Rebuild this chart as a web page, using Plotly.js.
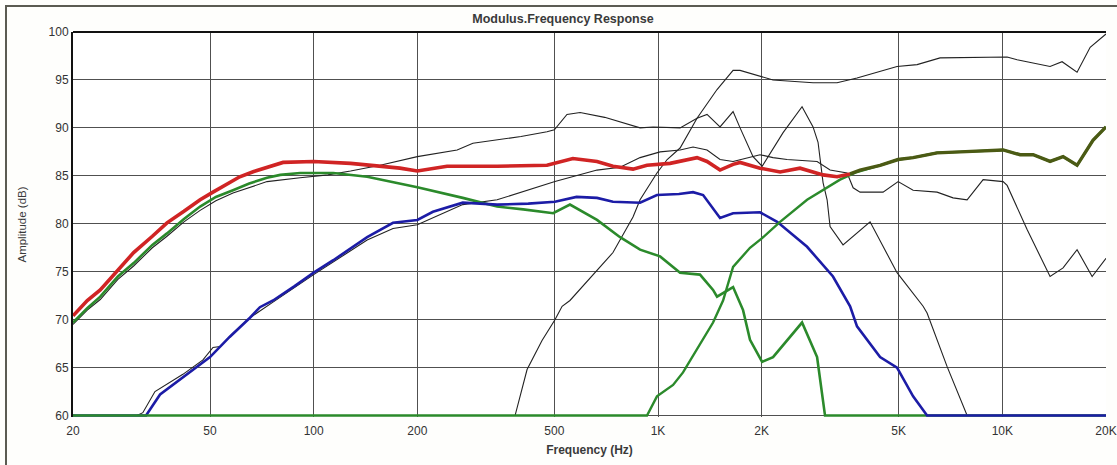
<!DOCTYPE html>
<html>
<head>
<meta charset="utf-8">
<script src="https://cdn.plot.ly/plotly-3.0.1.min.js"></script>
<style>
  html, body { margin: 0; padding: 0; background: #fefefc; }
  #wrap { position: relative; width: 1117px; height: 465px; overflow: hidden; }
  #frame { position: absolute; left: 5px; top: 5px; width: 1120px; height: 470px;
           border-top: 2px solid #5b5b52; border-left: 2px solid #5b5b52; box-sizing: border-box; }
  #chart { position: absolute; left: 0; top: 0; width: 1117px; height: 465px; }
</style>
</head>
<body>
<div id="wrap">
  <div id="frame"></div>
  <div id="chart"></div>
</div>
<script>
// Tick labels
const tickHz = [20, 50, 100, 200, 500, 1000, 2000, 5000, 10000, 20000];
const tickText = ['20', '50', '100', '200', '500', '1K', '2K', '5K', '10K', '20K'];
const tickDb = [60, 65, 70, 75, 80, 85, 90, 95, 100];

// Raw woofer response (thin black)
const wooferRawHz = [20, 22, 24, 27, 30, 34, 37.5, 42, 46.8, 52, 58.3, 65, 73.2, 91.3, 110, 128, 156, 200, 261, 290, 400, 476, 500, 544, 594, 700, 776, 887, 968, 1159, 1298, 1388, 1514, 1652, 1731, 1888, 2006, 2308, 2620, 2820, 2916, 3015, 3098, 3160, 3446, 4129, 4945, 5887, 6045, 6912, 7901, 20000];
const wooferRawDb = [69.5, 71, 72.1, 74.2, 75.6, 77.5, 78.7, 80.2, 81.4, 82.4, 83.2, 83.8, 84.4, 84.8, 85.1, 85.5, 86.1, 87, 87.7, 88.4, 89.1, 89.6, 89.8, 91.4, 91.6, 91.1, 90.6, 90, 90.1, 90, 91, 91.4, 90.1, 91.7, 90, 87, 86, 89.5, 92.2, 90.1, 88.5, 84.3, 82.5, 79.7, 77.8, 80.2, 74.9, 71.4, 70.7, 65.1, 60, 60];

// Raw midrange response (thin black)
const midRawHz = [20, 30.7, 31.9, 34.6, 41.7, 47.7, 51, 53.5, 58.3, 65.3, 76, 100, 143, 170, 200, 271, 341, 502, 665, 740, 776, 887, 1014, 1159, 1264, 1388, 1514, 1652, 1813, 1978, 2158, 2370, 2897, 3160, 3541, 3687, 3862, 4504, 4981, 5506, 6464, 7193, 7901, 8795, 10050, 10325, 11800, 13760, 15010, 16482, 18230, 20000];
const midRawDb = [60, 60, 60.3, 62.5, 64.3, 65.8, 67.1, 67.2, 68.6, 70.2, 71.8, 74.7, 78.3, 79.5, 79.9, 82, 82.5, 84.4, 85.6, 85.8, 85.9, 86.9, 87.5, 87.7, 88, 87.7, 86.7, 86.5, 86.9, 87.2, 86.9, 86.7, 86.5, 85.6, 85.3, 83.75, 83.3, 83.3, 84.4, 83.5, 83.3, 82.7, 82.5, 84.6, 84.4, 84, 79.4, 74.5, 75.4, 77.3, 74.5, 76.4];

// Raw tweeter response (thin black)
const tweeterRawHz = [20, 384.5, 416.6, 460, 502, 526.6, 555, 640, 740, 846, 887, 993, 1063, 1159, 1298, 1484, 1652, 1731, 1813, 2158, 2820, 3311, 3784, 4945, 5655, 6594, 10325, 11037, 13760, 14910, 16482, 17990, 20000];
const tweeterRawDb = [60, 60, 64.8, 67.8, 70, 71.4, 72, 74.5, 77, 80.7, 82.5, 85.3, 86.7, 87.9, 91, 94, 96, 96, 95.8, 95, 94.7, 94.7, 95.2, 96.4, 96.6, 97.3, 97.4, 97.1, 96.4, 96.9, 95.8, 98.4, 99.8];

// Filtered woofer (green)
const wooferHz = [20, 22, 24, 27, 30, 34, 37.5, 42, 46.8, 52, 58.3, 65, 73.2, 80, 91.3, 114, 143, 178, 200, 271, 341, 406, 496, 555, 665, 776, 887, 1014, 1159, 1324, 1445, 1484, 1652, 1766, 1850, 2006, 2158, 2620, 2897, 3055, 20000];
const wooferDb = [69.7, 71.2, 72.4, 74.5, 75.9, 77.8, 79, 80.5, 81.8, 82.8, 83.5, 84.2, 84.8, 85.1, 85.3, 85.3, 84.9, 84.2, 83.8, 82.7, 81.8, 81.5, 81.1, 82, 80.4, 78.6, 77.3, 76.6, 74.9, 74.7, 73.1, 72.4, 73.4, 71, 67.9, 65.6, 66.1, 69.7, 66.1, 60, 60];

// Filtered midrange (blue)
const midHz = [20, 32.6, 35.8, 40, 45.8, 50, 57, 65.3, 69.8, 76.2, 88, 100, 114, 143, 170, 200, 222, 271, 341, 420, 502, 580, 665, 740, 887, 993, 1150, 1264, 1352, 1514, 1652, 1978, 2218, 2710, 3222, 3613, 3784, 4415, 4945, 5506, 6045, 20000];
const midDb = [60, 60, 62.2, 63.5, 65.1, 66.1, 68.2, 70.2, 71.3, 72, 73.5, 74.9, 76.2, 78.6, 80.1, 80.4, 81.25, 82.2, 82, 82.1, 82.3, 82.8, 82.7, 82.3, 82.2, 83, 83.1, 83.3, 83, 80.6, 81.1, 81.2, 80.2, 77.6, 74.5, 71.4, 69.3, 66.1, 65, 62, 60, 60];

// Filtered tweeter (green)
const tweeterHz = [20, 929, 993, 1106, 1182, 1445, 1545, 1652, 1850, 2006, 2262, 2710, 3378, 3784, 4415, 4981, 5506, 6464, 7538, 10050, 11260, 12286, 13760, 15010, 16482, 18330, 20000];
const tweeterDb = [60, 60, 62, 63.2, 64.5, 69.7, 72, 75.5, 77.5, 78.5, 80.2, 82.5, 84.6, 85.4, 86.1, 86.7, 86.9, 87.4, 87.5, 87.7, 87.2, 87.2, 86.5, 87, 86.1, 88.7, 90.1];

// System sum (red, olive where it overlays the tweeter)
const sumHz = [20, 22, 24, 27, 30, 34, 37.5, 42, 46.8, 51, 56, 61, 67, 73, 81.5, 100, 128, 178, 200, 244, 341, 476, 566, 665, 740, 846, 929, 1084, 1264, 1298, 1388, 1514, 1652, 1731, 1978, 2262, 2585, 3015, 3311, 3613, 3862, 4415, 4981, 5506, 6464, 7538, 10050, 11260, 12286, 13760, 15010, 16482, 18330, 20000];
const sumDb = [70.4, 72, 73.1, 75.2, 77, 78.7, 80.1, 81.3, 82.5, 83.3, 84.1, 84.9, 85.45, 85.9, 86.4, 86.5, 86.3, 85.8, 85.5, 86, 86, 86.1, 86.8, 86.5, 86, 85.7, 86.1, 86.3, 86.8, 86.9, 86.5, 85.6, 86.2, 86.4, 85.8, 85.4, 85.8, 85.1, 84.9, 85.2, 85.6, 86.1, 86.7, 86.9, 87.4, 87.5, 87.7, 87.2, 87.2, 86.5, 87, 86.1, 88.7, 90.1];
const overlapFromHz = 3613;

const lowIdx = sumHz.map((f, i) => i).filter(i => sumHz[i] <= overlapFromHz);
const highIdx = sumHz.map((f, i) => i).filter(i => sumHz[i] >= overlapFromHz);

function line(x, y, color, width) {
  return { x: x, y: y, type: 'scatter', mode: 'lines', line: { color: color, width: width }, hoverinfo: 'skip', showlegend: false };
}

const traces = [
  line(tweeterRawHz, tweeterRawDb, '#222222', 1.1),
  line(wooferRawHz, wooferRawDb, '#222222', 1.1),
  line(midRawHz, midRawDb, '#222222', 1.1),
  line(wooferHz, wooferDb, '#2b8a2b', 2.6),
  line(midHz, midDb, '#1c1ca6', 2.6),
  line(tweeterHz, tweeterDb, '#2b8a2b', 2.4),
  line(lowIdx.map(i => sumHz[i]), lowIdx.map(i => sumDb[i]), '#d02424', 3.6),
  line(highIdx.map(i => sumHz[i]), highIdx.map(i => sumDb[i]), '#4b5a14', 3.4)
];

const fam = 'Liberation Sans, Arial, sans-serif';

const layout = {
  width: 1117, height: 465,
  margin: { l: 73, r: 11, t: 32, b: 47.6 },
  paper_bgcolor: 'rgba(0,0,0,0)',
  plot_bgcolor: '#ffffff',
  showlegend: false,
  hovermode: false,
  font: { family: fam, color: '#333', size: 12 },
  title: { text: '<b>Modulus.Frequency Response</b>', x: 0.504, xanchor: 'center', y: 0.961, yanchor: 'middle',
           font: { family: fam, size: 12.5, color: '#3a3a3a' } },
  xaxis: {
    type: 'log',
    range: [Math.log10(20), Math.log10(20000)],
    tickmode: 'array', tickvals: tickHz, ticktext: tickText,
    showgrid: true, gridcolor: '#505050', gridwidth: 1,
    zeroline: false, showline: false, ticks: '', ticklabelstandoff: 5,
    tickfont: { family: fam, size: 12, color: '#333' },
    title: { text: '<b>Frequency (Hz)</b>', standoff: 8,
             font: { family: fam, size: 12, color: '#3a3a3a' } }
  },
  yaxis: {
    range: [59.85, 100],
    tickmode: 'array', tickvals: tickDb,
    showgrid: true, gridcolor: '#505050', gridwidth: 1,
    zeroline: false, showline: true, linecolor: '#111', linewidth: 2, ticks: '',
    tickfont: { family: fam, size: 12, color: '#333' },
    title: { text: 'Amplitude (dB)', standoff: 20,
             font: { family: fam, size: 11.5, color: '#3a3a3a' } }
  },
  shapes: [
    { type: 'line', xref: 'paper', yref: 'paper', x0: 0, x1: 1, y0: 1, y1: 1,
      line: { color: '#111', width: 2 }, layer: 'above' }
  ]
};

Plotly.newPlot('chart', traces, layout, { staticPlot: true, displayModeBar: false });
</script>
</body>
</html>
